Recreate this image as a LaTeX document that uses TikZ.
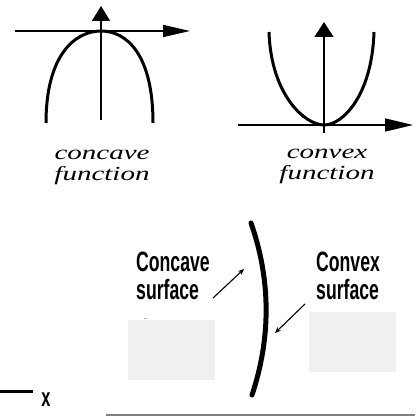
\documentclass[tikz,border=0pt]{standalone}
\usepackage{fontspec}
\usepackage{tikz}
\usetikzlibrary{arrows.meta}
\newfontfamily\funcfont[FakeStretch=1.45]{Liberation Serif}
\newfontfamily\condfont[FakeStretch=0.63]{Liberation Sans}
\definecolor{boxgray}{RGB}{240,240,240}
\definecolor{rulegray}{RGB}{128,128,128}
\tikzset{
    axis/.style={black, line width=1.6pt},
    curve/.style={black, line width=3pt},
    functext/.style={font=\funcfont\itshape\fontsize{20}{21}\selectfont, align=center, inner sep=0pt},
    surftext/.style={font=\condfont\bfseries\fontsize{28}{28}\selectfont, align=left, inner sep=0pt, anchor=north west},
    pointer/.style={black, line width=1.1pt, -{Stealth[length=6pt, width=5pt]}}
}

\begin{document}
\begin{tikzpicture}[x=1pt, y=-1pt]

    \useasboundingbox (0,0) rectangle (415,417);

    %% --- Concave function ---
    \coordinate (cvL) at (15,31);
    \coordinate (cvR) at (190,31);
    \coordinate (cvB) at (101,120);
    \coordinate (cvT) at (101,6);
    \coordinate (cvTop) at (101,31);
    \draw[axis, -{Triangle[length=27pt, width=12pt]}] (cvL) -- (cvR);
    \draw[axis, -{Triangle[length=15pt, width=18pt]}] (cvB) -- (cvT);
    \draw[curve] (46,123) .. controls (46,55) and (75,31) .. (cvTop)
                          .. controls (127,31) and (153,55) .. (153,123);
    \node[functext] (cavefunc) at (102,167) {concave\\function};

    %% --- Convex function ---
    \coordinate (cxL) at (238,125);
    \coordinate (cxR) at (413,125);
    \coordinate (cxB) at (324,133);
    \coordinate (cxT) at (324,22);
    \coordinate (cxBot) at (324,125);
    \draw[curve] (269,32) .. controls (271,95) and (305,125) .. (cxBot)
                          .. controls (343,125) and (372,95) .. (374,32);
    \draw[axis, -{Triangle[length=28pt, width=13pt]}] (cxL) -- (cxR);
    \draw[axis, -{Triangle[length=15pt, width=19pt]}] (cxB) -- (cxT);
    \node[functext] (vexfunc) at (327,166) {convex\\function};

    %% --- Lens surface ---
    \coordinate (lensT) at (251,223);
    \coordinate (lensB) at (252,395);
    \draw[black, line width=5pt, line cap=round]
        (lensT) .. controls (271,280) and (271,338) .. (lensB);

    %% Labels
    \node[surftext] (cavesurf) at (136,252) {Concave\\surface};
    \node[surftext] (vexsurf) at (316,252) {Convex\\surface};

    %% Pointers
    \coordinate (caveS) at (213,298);
    \coordinate (caveE) at (244,269);
    \coordinate (vexS) at (305,304);
    \coordinate (vexE) at (275,333);
    \draw[pointer] (caveS) -- (caveE);
    \draw[pointer] (vexS) -- (vexE);

    %% Blank boxes
    \fill[boxgray] (128,320) rectangle (215,380);
    \fill[boxgray] (309,312) rectangle (396,372);
    \draw[gray!60, line width=0.8pt] (144,318.5) -- (147,318.5);

    %% --- Bottom ---
    \coordinate (xS) at (0,391);
    \coordinate (xE) at (33,391);
    \draw[black, line width=3pt] (xS) -- (xE);
    \node[font=\condfont\bfseries\fontsize{26}{26}\selectfont, inner sep=0pt] (xlab) at (46,400) {x};
    \coordinate (ruleS) at (106,415);
    \coordinate (ruleE) at (415,415);
    \draw[rulegray, line width=1.5pt] (ruleS) -- (ruleE);

\end{tikzpicture}
\end{document}
